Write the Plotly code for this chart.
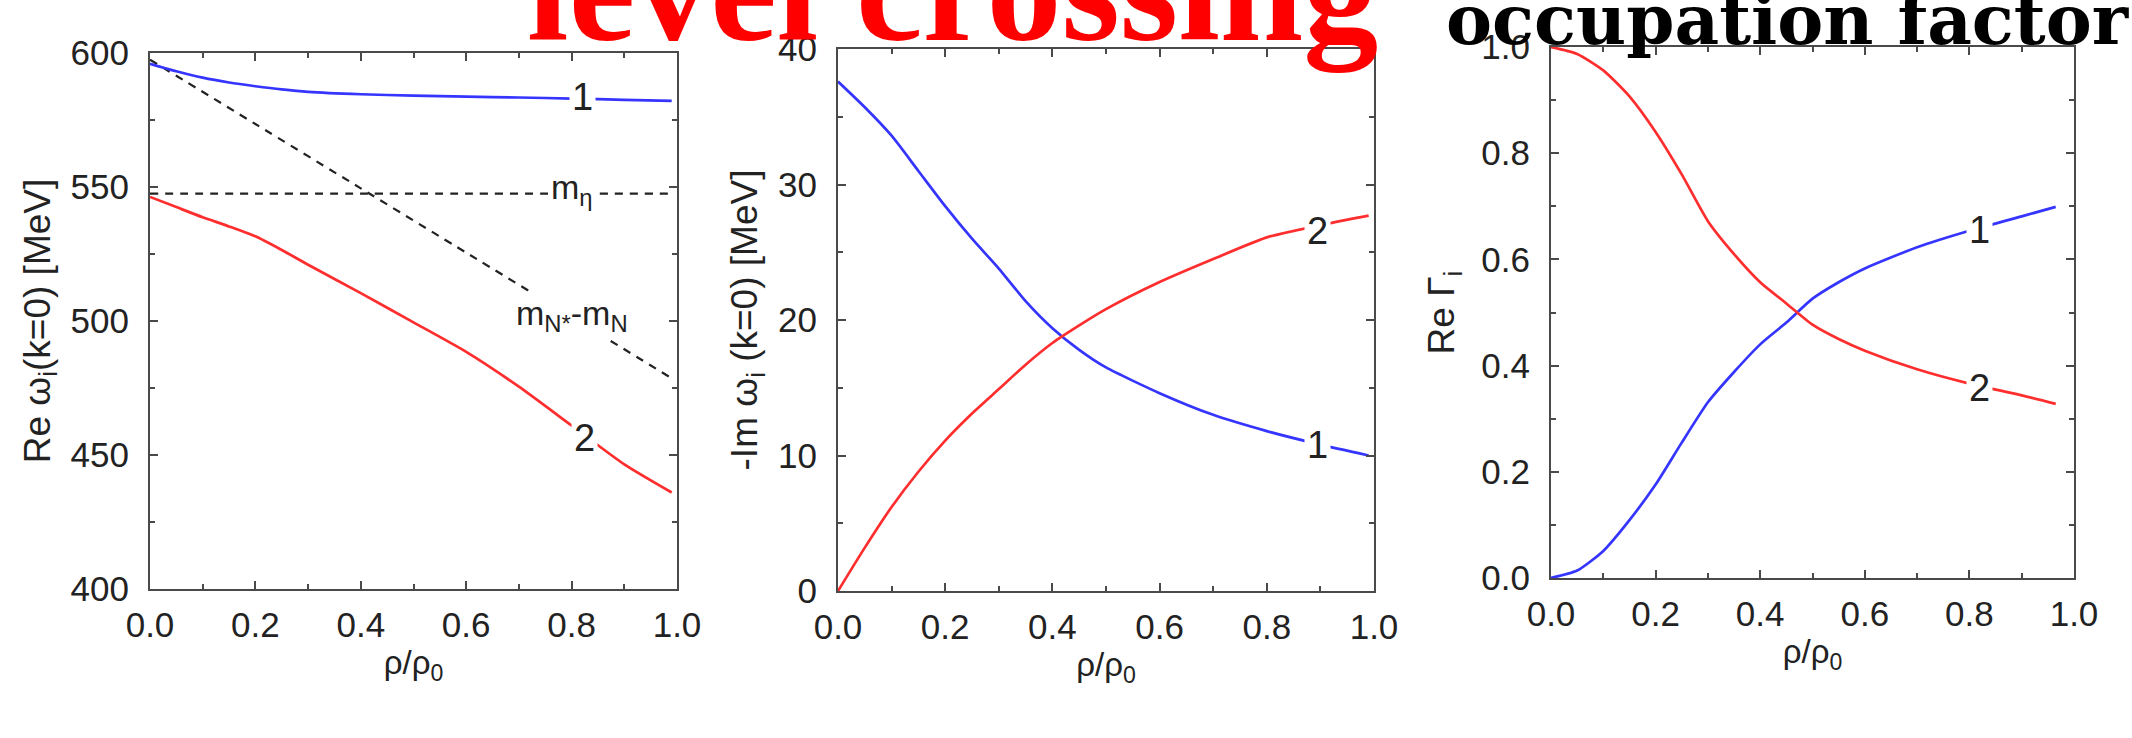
import plotly.graph_objects as go

# ---------------- data ----------------
# Panel 1: Re omega_i (k=0) [MeV]
x_re = [0, 0.05, 0.1, 0.15, 0.2, 0.25, 0.3, 0.4, 0.5, 0.6, 0.7, 0.8, 0.9, 0.99]
re_mode1 = [596.0, 593.2, 590.8, 589.0, 587.6, 586.4, 585.5, 584.6, 584.1, 583.7, 583.4, 583.0, 582.5, 582.1]
re_mode2 = [546.3, 542.5, 538.7, 535.3, 531.6, 526.5, 521.0, 510.4, 499.5, 488.5, 475.5, 461.0, 446.5, 436.0]
x_ref = [0, 0.2, 0.4, 0.6, 0.8, 0.99]
m_eta = [547.5, 547.5, 547.5, 547.5, 547.5, 547.5]
m_nstar_minus_mn = [597.5, 573.5, 549.5, 525.5, 501.5, 478.6]

# Panel 2: -Im omega_i (k=0) [MeV]
x_im = [0, 0.05, 0.1, 0.15, 0.2, 0.25, 0.3, 0.35, 0.4, 0.45, 0.5, 0.6, 0.7, 0.8, 0.9, 0.99]
im_mode1 = [37.6, 35.7, 33.6, 31.0, 28.4, 26.0, 23.8, 21.4, 19.4, 17.8, 16.5, 14.6, 13.0, 11.8, 10.8, 10.0]
im_mode2 = [0.0, 3.2, 6.2, 8.8, 11.1, 13.1, 14.9, 16.7, 18.3, 19.6, 20.8, 22.8, 24.5, 26.1, 27.0, 27.7]

# Panel 3: Re Gamma_i (occupation factor)
x_occ = [0, 0.05, 0.1, 0.15, 0.2, 0.25, 0.3, 0.35, 0.4, 0.45, 0.5, 0.55, 0.6, 0.7, 0.8, 0.9, 0.965]
occ_mode1 = [0.0, 0.014, 0.051, 0.109, 0.176, 0.255, 0.331, 0.388, 0.44, 0.481, 0.526, 0.557, 0.583, 0.623, 0.654, 0.681, 0.699]
occ_mode2 = [1.0, 0.987, 0.956, 0.907, 0.84, 0.76, 0.672, 0.61, 0.557, 0.517, 0.477, 0.45, 0.428, 0.393, 0.366, 0.344, 0.328]

x_ticks = [0.0, 0.2, 0.4, 0.6, 0.8, 1.0]

# ---------------- styles ----------------
BLUE = "#3535ff"
RED = "#ff2e2e"
AX = "#4a4a4a"
TXT = "#222222"
SANS = "Liberation Sans, Arial, sans-serif"
LW = 2.7

fig = go.Figure()

def line(x, y, color, xa, ya, dash="solid", width=LW):
    fig.add_trace(go.Scatter(x=x, y=y, mode="lines", xaxis=xa, yaxis=ya,
                             line=dict(color=color, width=width, dash=dash, shape="spline", smoothing=0.6),
                             showlegend=False, hoverinfo="skip"))

line(x_ref, m_eta, "#222222", "x", "y", dash="8px,7px", width=2.2)
line(x_ref, m_nstar_minus_mn, "#222222", "x", "y", dash="8px,7px", width=2.2)
line(x_re, re_mode1, BLUE, "x", "y")
line(x_re, re_mode2, RED, "x", "y")
line(x_im, im_mode1, BLUE, "x2", "y2")
line(x_im, im_mode2, RED, "x2", "y2")
line(x_occ, occ_mode1, BLUE, "x3", "y3")
line(x_occ, occ_mode2, RED, "x3", "y3")

W, H = 2132, 738
panels = [
    # (x0, x1, ytop, ybottom) in pixels
    (150, 677, 53, 589),
    (838, 1374, 49, 591),
    (1551, 2074, 47, 578),
]
yinfo = [
    dict(range=[400, 600], dtick=50, minor=25, fmt="d", standoff=9,
         title="Re ω<sub>i</sub>(k=0) [MeV]"),
    dict(range=[0, 40], dtick=10, minor=5, fmt="d", standoff=9,
         title="-Im ω<sub>i</sub> (k=0) [MeV]"),
    dict(range=[0, 1], dtick=0.2, minor=0.1, fmt=".1f", standoff=15,
         title="Re Γ<sub>i</sub>"),
]

layout = dict(width=W, height=H, autosize=False,
              margin=dict(l=0, r=0, t=0, b=0, pad=0, autoexpand=False),
              paper_bgcolor="white", plot_bgcolor="white",
              font=dict(family=SANS, color=TXT))

for i, ((x0, x1, yt, yb), yi) in enumerate(zip(panels, yinfo)):
    sfx = "" if i == 0 else str(i + 1)
    layout["xaxis" + sfx] = dict(
        domain=[x0 / W, x1 / W], range=[0, 1], anchor="y" + sfx, automargin=False,
        tickvals=x_ticks, tickformat=".1f",
        ticks="inside", ticklen=8, tickwidth=2, tickcolor=AX,
        minor=dict(ticks="inside", dtick=0.1, ticklen=5, tickwidth=2, tickcolor=AX),
        showline=True, linecolor=AX, linewidth=2, mirror="allticks",
        showgrid=False, zeroline=False,
        tickfont=dict(family=SANS, size=35, color=TXT), ticklabelstandoff=4,
        title=dict(text="ρ/ρ<sub>0</sub>", font=dict(family=SANS, size=33, color=TXT), standoff=6),
    )
    layout["yaxis" + sfx] = dict(
        domain=[1 - yb / H, 1 - yt / H], range=yi["range"], anchor="x" + sfx, automargin=False,
        dtick=yi["dtick"], tick0=0, tickformat=yi["fmt"],
        ticks="inside", ticklen=8, tickwidth=2, tickcolor=AX,
        minor=dict(ticks="inside", dtick=yi["minor"], ticklen=5, tickwidth=2, tickcolor=AX),
        showline=True, linecolor=AX, linewidth=2, mirror="allticks",
        showgrid=False, zeroline=False,
        tickfont=dict(family=SANS, size=35, color=TXT), ticklabelstandoff=12,
        title=dict(text=yi["title"], font=dict(family=SANS, size=37, color=TXT), standoff=yi["standoff"]),
    )

ann = []
def label(text, x, y, xa, ya, size=38):
    ann.append(dict(text=text, x=x, y=y, xref=xa, yref=ya, showarrow=False,
                    font=dict(family=SANS, size=size, color=TXT),
                    bgcolor="white", borderpad=2, xanchor="center", yanchor="middle"))

label("1", 0.82, 583.5, "x", "y")
label("2", 0.825, 456.5, "x", "y")
label("m<sub>η</sub>", 0.80, 549.0, "x", "y", size=34)
label("m<sub>N*</sub>-m<sub>N</sub>", 0.80, 502.0, "x", "y", size=34)
label("1", 0.895, 10.8, "x2", "y2")
label("2", 0.895, 26.6, "x2", "y2")
label("1", 0.82, 0.656, "x3", "y3")
label("2", 0.82, 0.357, "x3", "y3")

ann.append(dict(text="<b>level crossing</b>", x=952 / W, y=1 - 75 / H, xref="paper", yref="paper",
                xanchor="center", yanchor="bottom", showarrow=False,
                font=dict(family="Liberation Serif, Times New Roman, serif", size=150, color="#ff0000")))
ann.append(dict(text="<b>occupation factor</b>", x=1.0, y=1 - 62 / H, xref="paper", yref="paper",
                xanchor="right", yanchor="bottom", showarrow=False,
                font=dict(family="DejaVu Serif, serif", size=69, color="#000000")))

layout["annotations"] = ann
fig.update_layout(**layout)
fig.write_html("out.html")
